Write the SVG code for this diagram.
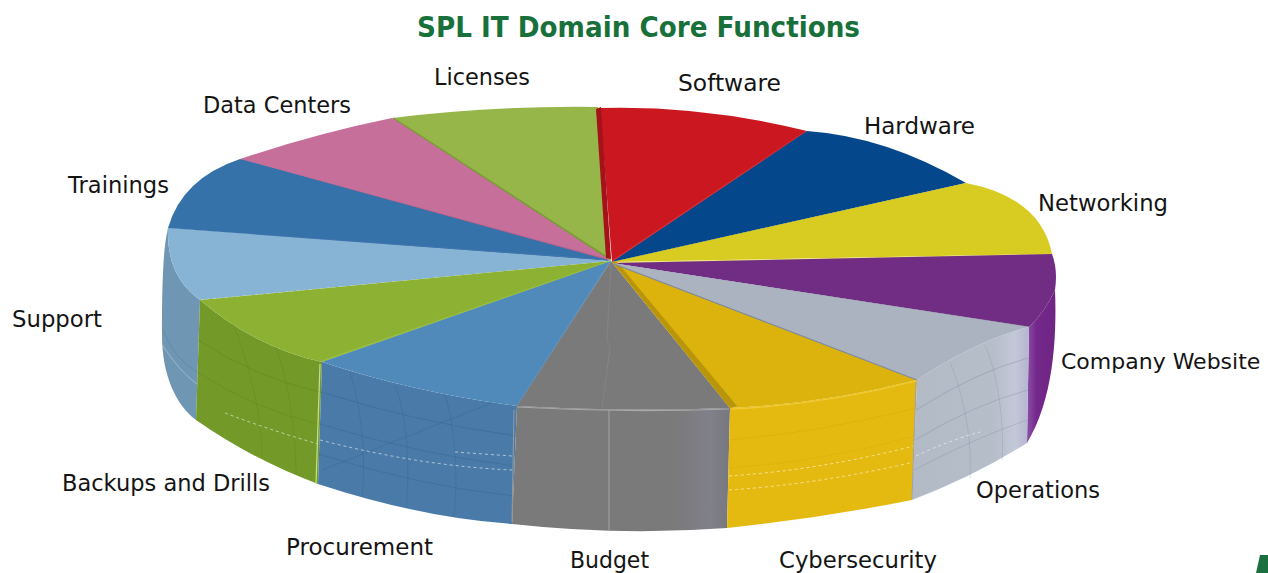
<svg xmlns="http://www.w3.org/2000/svg" width="1268" height="573" viewBox="0 0 1268 573">
  <defs>
    <style>
      .lbl { font-family: "DejaVu Sans", "Liberation Sans", sans-serif; font-size: 23.5px; fill: #141414; }
      .title { font-family: "DejaVu Sans", "Liberation Sans", sans-serif; font-size: 29px; font-weight: bold; fill: #18703A; }
      .grid { fill: none; stroke-width: 0.8; }
      .dash { fill: none; stroke: #ffffff; stroke-opacity: 0.55; stroke-width: 1; stroke-dasharray: 3 3; }
    </style>
    <linearGradient id="budgetWall" x1="512" y1="0" x2="728" y2="0" gradientUnits="userSpaceOnUse">
      <stop offset="0" stop-color="#7A7A7A"/>
      <stop offset="0.75" stop-color="#7A7A7A"/>
      <stop offset="0.92" stop-color="#80808A"/>
      <stop offset="1" stop-color="#787880"/>
    </linearGradient>
    <linearGradient id="opsWall" x1="912" y1="0" x2="1029" y2="0" gradientUnits="userSpaceOnUse">
      <stop offset="0" stop-color="#B2BAC6"/>
      <stop offset="0.7" stop-color="#B6BECA"/>
      <stop offset="0.88" stop-color="#C3C8D6"/>
      <stop offset="1" stop-color="#B4B4D2"/>
    </linearGradient>
    <linearGradient id="compWall" x1="1028" y1="0" x2="1056" y2="0" gradientUnits="userSpaceOnUse">
      <stop offset="0" stop-color="#8A4CA0"/>
      <stop offset="0.3" stop-color="#74288C"/>
      <stop offset="1" stop-color="#6E2582"/>
    </linearGradient>
  </defs>

  <rect width="1268" height="573" fill="#ffffff"/>

  <text class="title" x="417" y="37" textLength="443" lengthAdjust="spacingAndGlyphs">SPL IT Domain Core Functions</text>

  <!-- back slices: top surfaces only -->
  <g id="slice-licenses">
    <path d="M611,261 L392,118 Q495,105.5 598,107 Z" fill="#97B64A"/>
    <line x1="393" y1="118.5" x2="609" y2="259" stroke="#7C9B3A" stroke-width="2.5"/>
  </g>
  <g id="slice-data-centers">
    <path d="M611,261 L240,159 Q316,133.5 392,118 Z" fill="#C76F9B"/>
    <line x1="241" y1="160" x2="608" y2="260" stroke="#B3628D" stroke-width="2"/>
  </g>
  <g id="slice-trainings">
    <path d="M611,261 L168,228 Q182,178.5 240,159 Z" fill="#3572AA"/>
    <line x1="169" y1="228.5" x2="607" y2="260" stroke="#4277AE" stroke-width="1.5"/>
  </g>
  <g id="slice-software">
    <path d="M612,262 L600,108 Q702,105 807,131 Z" fill="#CB1820"/>
    <path d="M596,109 L601,107 L611,259 L606,258 Z" fill="#A5121A"/>
    <line x1="806" y1="132" x2="613" y2="261" stroke="#D9343B" stroke-width="2"/>
  </g>
  <g id="slice-hardware">
    <path d="M612,262 L807,131 Q886,136.5 966,183 Z" fill="#04478B"/>
    <line x1="965" y1="184" x2="614" y2="262" stroke="#2C65A3" stroke-width="1.2"/>
  </g>
  <g id="slice-networking">
    <path d="M612,262 L966,183 Q1041,197.5 1052,254 Z" fill="#D8CB22"/>
    <line x1="1052" y1="254.5" x2="614" y2="263" stroke="#E8DF6A" stroke-width="1.5"/>
  </g>

  <!-- side slices with visible wall -->
  <g id="slice-company-website">
    <path d="M1055,290 C1057,340 1053,400 1027,443 L1029,327 Q1045,312 1055,290 Z" fill="url(#compWall)"/>
    <path d="M612,263 L1052,254 Q1058,270 1055,290 Q1045,312 1029,327 Z" fill="#712D84"/>
    <line x1="1029" y1="327" x2="614" y2="264" stroke="#8C7A9E" stroke-width="1"/>
  </g>
  <g id="slice-support">
    <path d="M168,228 C164,245 162,270 162,335 C162,375 176,405 196,420 L200,300 Q166,276 168,228 Z" fill="#6F96B2"/>
    <path class="grid" d="M163,330 Q175,360 197,372" stroke="#4F7896" stroke-opacity="0.45"/>
    <path class="grid" d="M163,346 Q180,372 197,384" stroke="#ffffff" stroke-opacity="0.4"/>
    <path d="M611,261 L200,300 Q166,276 168,228 Z" fill="#87B3D4"/>
    <line x1="201" y1="300" x2="607" y2="262" class="dash" stroke-opacity="0.8" stroke-width="1.3"/>
  </g>

  <!-- front slices: top surface and wall -->
  <g id="slice-backups">
    <path d="M200,300 Q255,347 322,362 L318,484 Q252.5,459.5 196,420 Z" fill="#739A28"/>
    <path class="grid" d="M198,340 Q256,378 320,392" stroke="#5C8018" stroke-opacity="0.5"/>
    <path class="grid" d="M197,372 Q256,410 319,424" stroke="#5C8018" stroke-opacity="0.45"/>
    <path class="grid" d="M230,318 C250,360 262,420 262,458" stroke="#5C8018" stroke-opacity="0.4"/>
    <path class="grid" d="M275,344 C288,380 296,430 296,474" stroke="#5C8018" stroke-opacity="0.4"/>
    <path class="dash" d="M225,413 Q270,430 318,444"/>
    <path d="M611,261 L322,362 Q255,347 200,300 Z" fill="#8DB233"/>
    <line x1="323" y1="361" x2="608" y2="262" stroke="#9DC143" stroke-width="1.5"/>
    <line x1="320" y1="364" x2="316" y2="484" stroke="#C9DE8E" stroke-width="1.2"/>
  </g>
  <g id="slice-procurement">
    <path d="M322,362 Q414.5,392.5 517,406 L512,524 Q420,517.5 318,484 Z" fill="#4A7BA8"/>
    <path class="grid" d="M321,392 Q416,422 516,436" stroke="#2B5C8C" stroke-opacity="0.45"/>
    <path class="grid" d="M320,424 Q417,454 515,466" stroke="#2B5C8C" stroke-opacity="0.4"/>
    <path class="grid" d="M319,454 Q418,486 514,496" stroke="#2B5C8C" stroke-opacity="0.4"/>
    <path class="grid" d="M350,372 C362,410 366,460 362,497" stroke="#2B5C8C" stroke-opacity="0.35"/>
    <path class="grid" d="M395,385 C408,420 410,470 406,508" stroke="#2B5C8C" stroke-opacity="0.35"/>
    <path class="grid" d="M445,395 C456,430 458,480 454,516" stroke="#2B5C8C" stroke-opacity="0.35"/>
    <path class="grid" d="M322,470 L512,395" stroke="#2B5C8C" stroke-opacity="0.35"/>
    <path class="dash" d="M320,440 Q420,466 512,470"/>
    <path class="dash" d="M455,452 L512,456"/>
    <path d="M611,261 L517,406 Q414.5,392.5 322,362 Z" fill="#508ABA"/>
    <line x1="517" y1="406" x2="609" y2="263" stroke="#5E95C2" stroke-width="1.2"/>
  </g>
  <g id="slice-budget">
    <path d="M517,406 Q623,412 730,408 L727,528 Q620,536 512,524 Z" fill="url(#budgetWall)"/>
    <line x1="609" y1="410" x2="609" y2="531" stroke="#A4A4A4" stroke-width="1"/>
    <line x1="514" y1="410" x2="512" y2="522" stroke="#9A9A9A" stroke-width="1"/>
    <path d="M611,261 L730,408 Q623,412 517,406 Z" fill="#7A7A7A"/>
    <path d="M611,264 L607,340 L610,348 L602,408" fill="none" stroke="#868686" stroke-width="0.8"/>
    <path d="M517,407 Q623,413 729,409" fill="none" stroke="#A8A8A8" stroke-width="1.2"/>
  </g>
  <g id="slice-cybersecurity">
    <path d="M730,408 Q822.5,404 917,380 L912,500 Q822,518 727,528 Z" fill="#E5BA10"/>
    <path class="grid" d="M729,440 Q822,432 916,408" stroke="#C99E00" stroke-opacity="0.35"/>
    <path class="grid" d="M729,468 Q822,462 915,436" stroke="#C99E00" stroke-opacity="0.3"/>
    <path class="dash" d="M729,476 Q820,470 914,446"/>
    <path class="dash" d="M729,490 Q820,484 914,462"/>
    <path d="M612,262 L917,380 Q822.5,404 730,408 Z" fill="#DBB30C"/>
    <path d="M612,262 L730,408 L737,406 L617,262 Z" fill="#B8950A"/>
    <path d="M731,409 Q822.5,405 916,381" fill="none" stroke="#F1CB3A" stroke-width="1.2"/>
  </g>
  <g id="slice-operations">
    <path d="M917,380 Q977,340.5 1029,327 L1027,443 Q974,476.5 912,500 Z" fill="url(#opsWall)"/>
    <path class="grid" d="M916,410 Q976,372 1028,358" stroke="#7F8AA0" stroke-opacity="0.5"/>
    <path class="grid" d="M915,440 Q975,404 1028,390" stroke="#7F8AA0" stroke-opacity="0.45"/>
    <path class="grid" d="M914,470 Q975,438 1027,420" stroke="#7F8AA0" stroke-opacity="0.4"/>
    <path class="grid" d="M950,362 C965,400 972,440 970,478" stroke="#7F8AA0" stroke-opacity="0.35"/>
    <path class="grid" d="M985,345 C1000,380 1004,430 1002,460" stroke="#7F8AA0" stroke-opacity="0.35"/>
    <path class="dash" d="M916,456 Q950,440 980,432"/>
    <path d="M612,263 L1029,327 Q977,340.5 917,380 Z" fill="#ABB3C0"/>
    <line x1="917" y1="380" x2="614" y2="264" stroke="#7D89A0" stroke-width="1.2"/>
    <line x1="916" y1="382" x2="912" y2="499" stroke="#9AA2AE" stroke-width="1"/>
  </g>

  <!-- labels -->
  <g id="labels">
    <text class="lbl" x="434" y="85" textLength="96" lengthAdjust="spacingAndGlyphs">Licenses</text>
    <text class="lbl" x="678" y="91" textLength="103" lengthAdjust="spacingAndGlyphs">Software</text>
    <text class="lbl" x="864" y="134" textLength="111" lengthAdjust="spacingAndGlyphs">Hardware</text>
    <text class="lbl" x="1038" y="211" textLength="130" lengthAdjust="spacingAndGlyphs">Networking</text>
    <text class="lbl" x="1061" y="369" style="font-size:22px">Company Website</text>
    <text class="lbl" x="976" y="498" textLength="124" lengthAdjust="spacingAndGlyphs">Operations</text>
    <text class="lbl" x="779" y="568" textLength="158" lengthAdjust="spacingAndGlyphs">Cybersecurity</text>
    <text class="lbl" x="570" y="568" textLength="79" lengthAdjust="spacingAndGlyphs">Budget</text>
    <text class="lbl" x="286" y="555" textLength="147" lengthAdjust="spacingAndGlyphs">Procurement</text>
    <text class="lbl" x="62" y="491" textLength="208" lengthAdjust="spacingAndGlyphs">Backups and Drills</text>
    <text class="lbl" x="12" y="327" textLength="90" lengthAdjust="spacingAndGlyphs">Support</text>
    <text class="lbl" x="68" y="193" textLength="101" lengthAdjust="spacingAndGlyphs">Trainings</text>
    <text class="lbl" x="203" y="113" textLength="148" lengthAdjust="spacingAndGlyphs">Data Centers</text>
  </g>

  <!-- corner mark -->
  <path d="M1260,555 L1268,555 L1268,573 L1256,573 Z" fill="#1B7040"/>
</svg>
